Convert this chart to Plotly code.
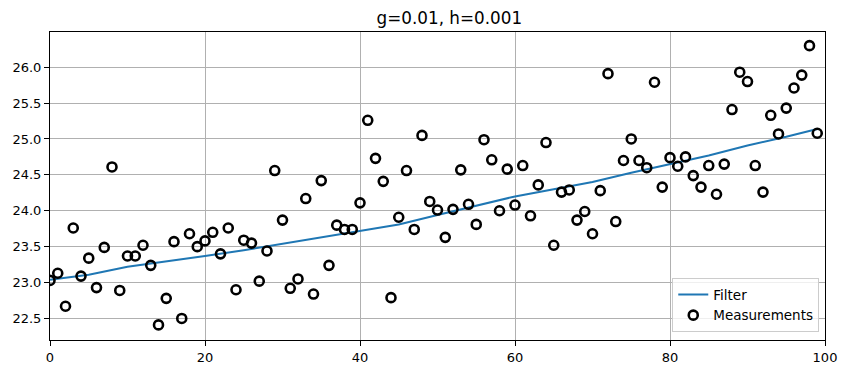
import plotly.graph_objects as go

meas_x = list(range(100))
meas_y = [23.03, 23.13, 22.67, 23.76, 23.09, 23.34, 22.93, 23.49, 24.61, 22.89,
          23.37, 23.37, 23.52, 23.24, 22.41, 22.78, 23.57, 22.50, 23.68, 23.50,
          23.58, 23.70, 23.40, 23.76, 22.90, 23.59, 23.55, 23.02, 23.44, 24.56,
          23.87, 22.92, 23.05, 24.17, 22.84, 24.42, 23.24, 23.80, 23.74, 23.74,
          24.11, 25.26, 24.73, 24.41, 22.79, 23.91, 24.56, 23.74, 25.05, 24.13,
          24.01, 23.63, 24.02, 24.57, 24.09, 23.81, 24.99, 24.71, 24.00, 24.58,
          24.08, 24.63, 23.93, 24.36, 24.95, 23.52, 24.26, 24.29, 23.87, 23.99,
          23.68, 24.28, 25.91, 23.85, 24.70, 25.00, 24.70, 24.60, 25.79, 24.33,
          24.74, 24.62, 24.75, 24.49, 24.33, 24.63, 24.23, 24.65, 25.41, 25.93,
          25.80, 24.63, 24.26, 25.33, 25.07, 25.43, 25.71, 25.89, 26.30, 25.08]

filter_x = [0, 5, 10, 15, 20, 25, 30, 35, 40, 45, 50, 55, 60, 65, 70, 75, 80, 85, 90, 95, 99]
filter_y = [23.04, 23.11, 23.22, 23.29, 23.37, 23.45, 23.54, 23.62, 23.71, 23.81,
            23.94, 24.07, 24.20, 24.30, 24.40, 24.53, 24.65, 24.77, 24.91, 25.03, 25.14]

x_ticks = [0, 20, 40, 60, 80, 100]
y_ticks = [22.5, 23.0, 23.5, 24.0, 24.5, 25.0, 25.5, 26.0]

fig = go.Figure()
fig.add_trace(go.Scatter(x=filter_x, y=filter_y, mode="lines", name="Filter",
                         line=dict(color="#1f77b4", width=2)))
fig.add_trace(go.Scatter(x=meas_x, y=meas_y, mode="markers", name="Measurements",
                         marker=dict(symbol="circle-open", size=9, color="black",
                                     line=dict(width=2.6, color="black"))))

fig.update_layout(
    width=848, height=374,
    margin=dict(l=50, r=23, t=32, b=34),
    paper_bgcolor="white", plot_bgcolor="white",
    font=dict(family="DejaVu Sans", size=13, color="black"),
    title=dict(text="g=0.01, h=0.001", x=0.5153, xref="paper", xanchor="center",
               y=0.952, yanchor="middle", font=dict(size=16.8)),
    showlegend=True,
    legend=dict(x=0.9926, y=0.025, xanchor="right", yanchor="bottom",
                bgcolor="rgba(255,255,255,0.8)", bordercolor="#cccccc", borderwidth=1,
                font=dict(size=13.5), tracegroupgap=0),
    xaxis=dict(range=[0, 100], tickvals=x_ticks, ticks="outside", ticklen=5,
               tickcolor="black", showgrid=True, gridcolor="#b0b0b0", gridwidth=1,
               showline=True, linecolor="black", linewidth=1, mirror=True, zeroline=False,
               automargin=False, tickfont=dict(size=13)),
    yaxis=dict(range=[22.2, 26.49], tickvals=y_ticks, tickformat=".1f", ticks="outside",
               ticklen=5, tickcolor="black", showgrid=True, gridcolor="#b0b0b0", gridwidth=1,
               showline=True, linecolor="black", linewidth=1, mirror=True, zeroline=False,
               automargin=False, tickfont=dict(size=13)),
)

fig.write_html("out.html", config={"displayModeBar": False},
               post_script="document.body.style.margin='0';document.body.style.overflow='hidden';")
